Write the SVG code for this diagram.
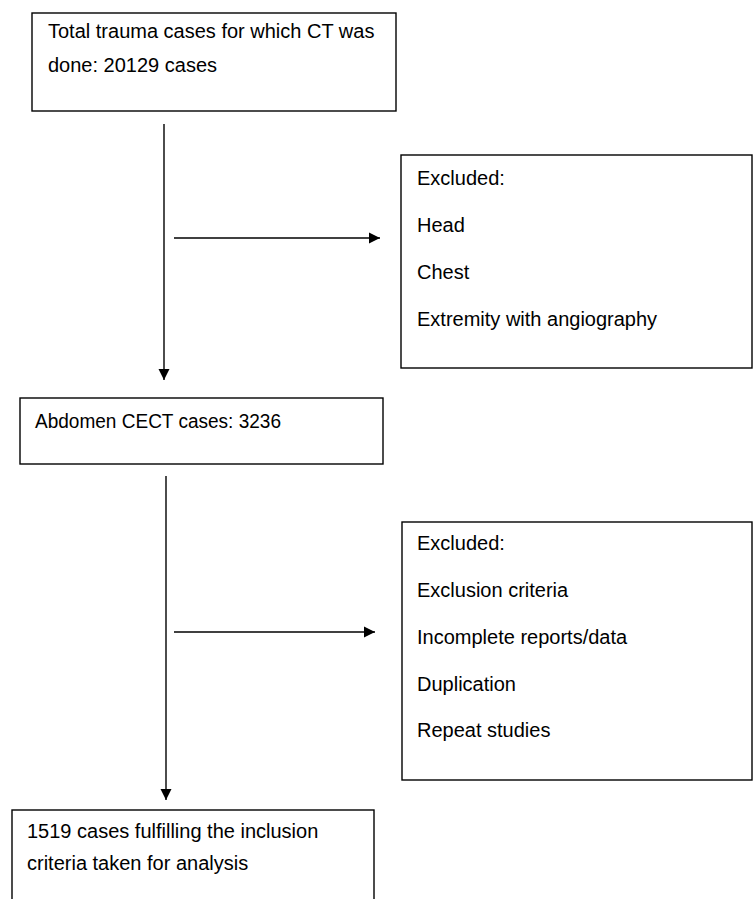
<svg xmlns="http://www.w3.org/2000/svg" width="753" height="899" viewBox="0 0 753 899">
<style>
.box{fill:#fff;stroke:#000;stroke-width:1.4}
.t{font-family:"Liberation Sans",Arial,sans-serif;font-size:20px;fill:#000}
.c{stroke:#000;stroke-width:1.4;fill:none}
</style>
<defs>
<marker id="ah" markerUnits="userSpaceOnUse" markerWidth="12" markerHeight="12" viewBox="0 0 12 12" refX="11" refY="6" orient="auto">
<path d="M0,0.5 L11,6 L0,11.5 Z" fill="#000"/>
</marker>
</defs>
<rect width="753" height="899" fill="#fff"/>
<g id="connectors">
<line class="c" x1="164" y1="124" x2="164" y2="380" marker-end="url(#ah)"/>
<line class="c" x1="174" y1="238" x2="380" y2="238" marker-end="url(#ah)"/>
<line class="c" x1="166" y1="476" x2="166" y2="800" marker-end="url(#ah)"/>
<line class="c" x1="174" y1="632" x2="375" y2="632" marker-end="url(#ah)"/>
</g>
<g id="total">
<rect class="box" x="32" y="13" width="364" height="98"/>
<text class="t" x="48" y="38">Total trauma cases for which CT was</text>
<text class="t" x="48" y="72">done: 20129 cases</text>
</g>
<g id="excluded1">
<rect class="box" x="401" y="155" width="351" height="213"/>
<text class="t" x="417" y="185">Excluded:</text>
<text class="t" x="417" y="232">Head</text>
<text class="t" x="417" y="279">Chest</text>
<text class="t" x="417" y="326">Extremity with angiography</text>
</g>
<g id="abdomen">
<rect class="box" x="20" y="398" width="363" height="66"/>
<text class="t" x="35" y="428" textLength="246" lengthAdjust="spacingAndGlyphs">Abdomen CECT cases: 3236</text>
</g>
<g id="excluded2">
<rect class="box" x="402" y="522" width="350" height="258"/>
<text class="t" x="417" y="550">Excluded:</text>
<text class="t" x="417" y="597">Exclusion criteria</text>
<text class="t" x="417" y="644">Incomplete reports/data</text>
<text class="t" x="417" y="691">Duplication</text>
<text class="t" x="417" y="737">Repeat studies</text>
</g>
<g id="final">
<rect class="box" x="12" y="810" width="362" height="100"/>
<text class="t" x="27" y="838">1519 cases fulfilling the inclusion</text>
<text class="t" x="27" y="870">criteria taken for analysis</text>
</g>
</svg>
